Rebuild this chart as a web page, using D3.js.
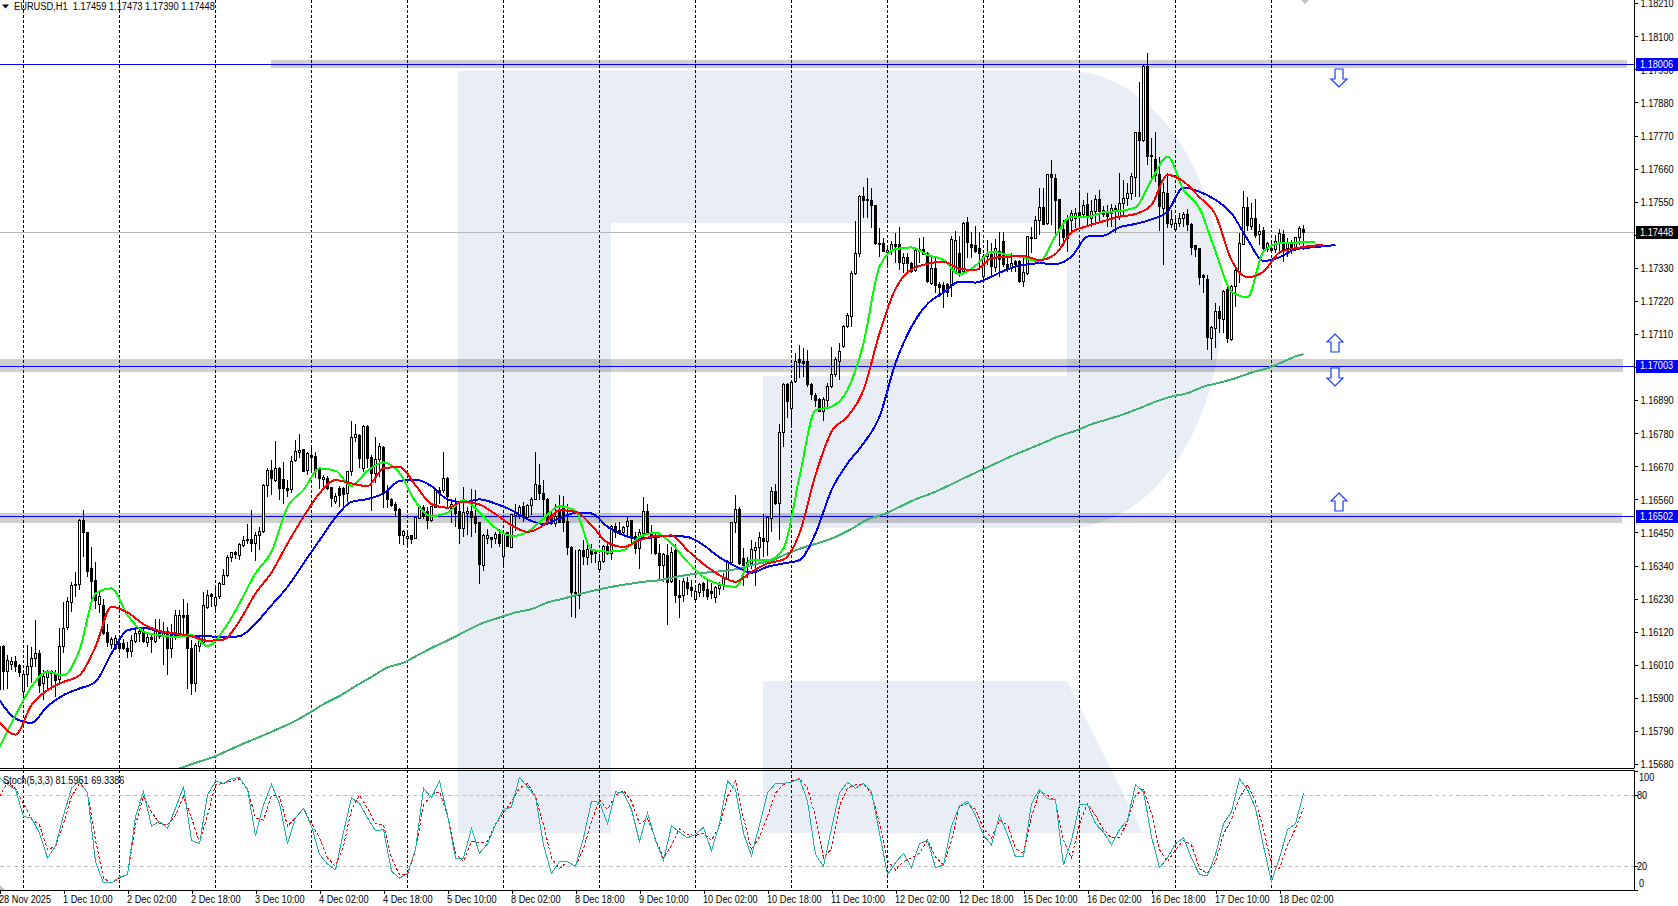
<!DOCTYPE html>
<html><head><meta charset="utf-8">
<script src="https://cdn.jsdelivr.net/npm/d3@7/dist/d3.min.js"></script>
<style>
html,body{margin:0;padding:0;background:#fff;overflow:hidden}
svg{display:block}
text{font-family:"Liberation Sans",Arial,sans-serif;font-size:11px;fill:#000}
</style></head><body>
<svg id="c" width="1678" height="906"></svg>
<script>
// Quotes: 16070 stands for 1.16070 (EURUSD points above 1.00000)
const opens=[16070,16070,15987,16009,16020,16007,15922,15979,16003,16031,
16048,15948,15968,15987,15981,15959,16070,16131,16219,16275,
16275,16489,16449,16330,16291,16208,16208,16117,16079,16064,
16081,16081,16064,16053,16086,16114,16120,16086,16101,16086,
16120,16103,16120,16064,16108,16114,16175,16175,16064,15948,
16070,16086,16203,16244,16208,16236,16278,16306,16367,16382,
16375,16408,16424,16427,16413,16441,16454,16607,16657,16624,
16663,16626,16596,16593,16687,16716,16727,16657,16707,16702,
16663,16626,16630,16600,16555,16596,16596,16580,16652,16766,
16774,16663,16804,16699,16648,16693,16733,16585,16560,16544,
16526,16438,16430,16441,16430,16496,16533,16519,16489,16533,
16591,16589,16630,16530,16544,16519,16463,16513,16519,16502,
16482,16341,16430,16433,16430,16444,16369,16449,16402,16508,
16508,16537,16502,16541,16560,16607,16580,16560,16508,16480,
16524,16530,16485,16400,16249,16241,16391,16369,16394,16382,
16330,16352,16404,16382,16471,16455,16452,16467,16489,16438,
16397,16447,16519,16447,16433,16380,16341,16375,16286,16391,
16241,16241,16284,16267,16228,16253,16280,16260,16253,16234,
16264,16273,16297,16350,16482,16526,16363,16341,16347,16391,
16400,16430,16419,16496,16587,16546,16782,16941,16863,16952,
17024,17020,17018,16941,16907,16891,16852,16891,16935,16974,
17018,17068,17132,17168,17310,17378,17567,17556,17553,17536,
17412,17412,17384,17389,17409,17406,17345,17365,17345,17321,
17392,17392,17376,17279,17328,17276,17270,17273,17273,17312,
17378,17317,17480,17409,17403,17395,17301,17367,17373,17332,
17384,17417,17340,17325,17351,17351,17284,17310,17432,17428,
17487,17531,17476,17639,17628,17556,17458,17495,17487,17495,
17514,17506,17539,17495,17517,17558,17520,17512,17512,17528,
17500,17543,17559,17576,17633,17781,17755,18000,17702,17691,
17641,17528,17578,17476,17459,17478,17492,17506,17473,17403,
17393,17306,17292,17096,17129,17185,17159,17257,17093,17268,
17318,17410,17532,17469,17495,17440,17453,17392,17395,17392,
17412,17442,17395,17412,17392,17432,17459];
const highs=[16070,16075,16042,16036,16039,16014,15987,16075,16070,16158,
16059,15992,15992,15992,15992,16131,16219,16236,16286,16319,
16495,16524,16452,16402,16352,16253,16230,16147,16101,16108,
16103,16097,16086,16108,16136,16136,16136,16114,16114,16161,
16161,16153,16136,16147,16192,16192,16230,16214,16092,16081,
16103,16253,16258,16247,16269,16286,16330,16375,16386,16389,
16416,16438,16477,16526,16452,16469,16612,16663,16690,16753,
16668,16685,16624,16704,16757,16776,16729,16718,16735,16718,
16668,16641,16637,16602,16580,16604,16600,16655,16821,16812,
16777,16807,16807,16707,16768,16746,16737,16607,16563,16552,
16530,16458,16452,16443,16502,16537,16541,16535,16537,16596,
16600,16718,16635,16552,16563,16546,16600,16533,16596,16591,
16485,16445,16463,16435,16452,16463,16452,16452,16513,16544,
16541,16552,16546,16569,16718,16679,16624,16565,16524,16546,
16574,16572,16546,16405,16391,16395,16424,16413,16413,16391,
16380,16408,16419,16474,16480,16485,16471,16500,16491,16452,
16463,16569,16546,16474,16447,16413,16382,16413,16402,16413,
16291,16297,16302,16291,16269,16283,16286,16291,16283,16271,
16286,16314,16358,16485,16576,16533,16397,16369,16424,16419,
16452,16511,16502,16600,16610,16810,16946,16946,16955,17046,
17073,17062,17057,16946,16913,16896,16900,16946,17068,17035,
17079,17140,17179,17318,17486,17572,17600,17628,17595,17539,
17462,17428,17395,17420,17445,17465,17378,17378,17351,17395,
17428,17434,17381,17373,17367,17284,17284,17279,17436,17453,
17436,17484,17500,17450,17469,17450,17376,17423,17412,17425,
17450,17450,17362,17378,17356,17356,17367,17436,17467,17503,
17595,17595,17642,17689,17642,17558,17489,17506,17522,17528,
17578,17556,17580,17556,17572,17589,17536,17539,17543,17539,
17645,17622,17611,17645,17783,17949,18005,18044,17761,17781,
17700,17611,17645,17523,17500,17512,17517,17525,17478,17406,
17395,17310,17306,17135,17212,17203,17257,17273,17273,17334,
17445,17585,17567,17545,17559,17476,17467,17417,17423,17440,
17458,17456,17428,17423,17434,17470,17473];
const lows=[15842,15926,15931,15992,15987,15970,15903,15937,15948,16003,
15915,15892,15926,15926,15903,15948,16048,16125,16186,16236,
16258,16369,16302,16225,16197,16181,16110,16070,16064,16059,
16060,16059,16034,16036,16083,16086,16083,16070,16048,16083,
16097,16009,15975,16031,16092,16108,16103,15931,15909,15920,
16053,16081,16197,16203,16186,16230,16275,16302,16352,16363,
16360,16402,16411,16386,16356,16391,16449,16569,16574,16618,
16557,16544,16569,16580,16685,16696,16652,16641,16652,16630,
16596,16591,16591,16533,16546,16535,16535,16552,16637,16751,
16663,16652,16663,16522,16613,16635,16530,16530,16535,16502,
16411,16408,16402,16410,16427,16494,16496,16460,16485,16530,
16546,16580,16530,16480,16469,16413,16435,16441,16435,16447,
16280,16322,16411,16397,16413,16402,16341,16400,16397,16455,
16496,16485,16491,16508,16557,16557,16491,16474,16474,16469,
16480,16452,16375,16169,16164,16197,16341,16341,16347,16347,
16322,16349,16375,16360,16430,16441,16441,16435,16413,16380,
16330,16435,16441,16380,16375,16291,16286,16142,16282,16214,
16164,16219,16241,16236,16219,16236,16236,16225,16230,16214,
16242,16260,16291,16341,16447,16341,16273,16297,16330,16273,
16358,16369,16371,16452,16541,16424,16735,16830,16796,16946,
16963,16968,16935,16891,16868,16850,16822,16868,16929,16968,
16957,17062,17129,17134,17306,17367,17495,17495,17462,17406,
17365,17381,17340,17373,17345,17323,17312,17312,17312,17317,
17347,17373,17281,17273,17245,17234,17195,17234,17234,17310,
17301,17312,17362,17362,17378,17323,17284,17340,17295,17317,
17301,17334,17317,17317,17317,17279,17265,17306,17378,17425,
17439,17473,17473,17473,17443,17401,17401,17384,17445,17462,
17462,17495,17465,17467,17484,17484,17500,17467,17467,17445,
17489,17500,17534,17556,17567,17567,17750,17672,17617,17617,
17451,17338,17462,17462,17456,17467,17467,17451,17373,17367,
17273,17246,17057,17022,17063,17113,17113,17079,17088,17201,
17279,17406,17451,17456,17428,17406,17384,17384,17379,17379,
17384,17351,17367,17376,17387,17406,17390];
const closes=[15926,15987,16025,16020,16003,15983,15978,16005,16031,16048,
15942,15970,15987,15979,15959,16070,16131,16219,16275,16278,
16489,16449,16319,16286,16225,16236,16114,16083,16095,16097,
16064,16064,16053,16090,16114,16120,16086,16101,16094,16120,
16103,16114,16064,16108,16175,16175,16170,16064,15948,16075,
16086,16208,16242,16236,16234,16280,16308,16367,16382,16375,
16411,16424,16428,16413,16441,16454,16607,16657,16630,16663,
16596,16596,16591,16687,16718,16724,16655,16713,16702,16652,
16630,16633,16596,16563,16571,16574,16576,16652,16766,16776,
16699,16804,16696,16646,16693,16735,16585,16557,16541,16524,
16441,16452,16438,16427,16500,16535,16502,16489,16535,16591,
16585,16630,16569,16544,16513,16463,16515,16519,16500,16480,
16341,16441,16441,16427,16444,16413,16447,16402,16511,16513,
16533,16502,16541,16560,16611,16580,16560,16480,16480,16502,
16485,16482,16400,16249,16241,16391,16371,16394,16378,16380,
16355,16402,16382,16471,16452,16447,16467,16485,16430,16397,
16449,16519,16447,16435,16380,16341,16378,16286,16382,16241,
16236,16286,16264,16258,16255,16278,16258,16236,16247,16266,
16273,16297,16352,16483,16526,16347,16341,16349,16393,16400,
16433,16419,16500,16585,16546,16782,16941,16885,16948,17018,
17013,17013,16941,16907,16891,16852,16891,16937,16974,17024,
17051,17134,17170,17312,17378,17567,17553,17553,17536,17409,
17409,17387,17389,17408,17403,17345,17365,17345,17317,17389,
17384,17376,17284,17328,17273,17265,17251,17248,17423,17420,
17314,17478,17414,17400,17384,17378,17369,17373,17334,17395,
17356,17340,17323,17343,17340,17284,17314,17434,17428,17489,
17531,17476,17639,17628,17556,17456,17432,17428,17511,17511,
17500,17536,17500,17517,17558,17517,17506,17503,17528,17520,
17545,17561,17576,17633,17781,17755,18000,17702,17700,17639,
17534,17580,17478,17492,17478,17495,17506,17473,17398,17390,
17298,17299,17099,17132,17185,17162,17251,17093,17268,17320,
17412,17532,17473,17495,17440,17451,17392,17412,17390,17417,
17443,17384,17412,17392,17432,17462,17448];
// Moving averages read every 4th bar
const maFast=[15737,15842,15937,15987,15975,16059,16247,16264,16175,16120,16108,16103,16108,16072,16125,16214,16314,16386,16535,16591,16663,16655,16605,16655,16683,16648,16552,16504,16515,16557,16516,16465,16438,16452,16496,16537,16521,16393,16386,16391,16435,16449,16413,16352,16302,16277,16269,16360,16358,16397,16635,16857,16868,16924,17079,17334,17392,17398,17373,17356,17309,17337,17384,17373,17365,17351,17436,17500,17500,17515,17519,17531,17622,17700,17589,17528,17384,17251,17232,17384,17412,17414,17415,17417];
const maMid=[15820,15778,15876,15926,15953,15975,16070,16203,16184,16145,16122,16114,16105,16090,16094,16156,16247,16317,16413,16502,16580,16624,16613,16604,16663,16668,16607,16544,16532,16552,16543,16511,16474,16452,16474,16524,16519,16474,16416,16402,16424,16438,16440,16391,16345,16308,16286,16319,16347,16360,16447,16641,16785,16835,16924,17112,17260,17325,17343,17351,17327,17323,17362,17367,17369,17356,17376,17448,17469,17485,17500,17509,17539,17639,17617,17565,17506,17356,17299,17317,17381,17395,17403,17406];
const maSlow=[15892,15831,15817,15872,15909,15931,15953,16048,16125,16133,16120,16111,16106,16105,16101,16105,16147,16208,16269,16347,16424,16500,16552,16561,16580,16621,16626,16604,16560,16550,16560,16546,16524,16494,16478,16496,16515,16513,16469,16441,16430,16435,16439,16435,16408,16367,16338,16316,16336,16347,16358,16447,16591,16679,16746,16835,17013,17134,17210,17248,17284,17281,17301,17325,17340,17345,17343,17367,17434,17437,17465,17476,17491,17517,17597,17583,17556,17511,17425,17353,17365,17392,17398,17403,17406];
const maLong=[15665,15684,15701,15724,15748,15770,15793,15817,15846,15879,15906,15939,15970,16001,16017,16045,16072,16097,16125,16150,16167,16184,16195,16217,16230,16245,16258,16269,16278,16286,16291,16302,16311,16317,16322,16330,16345,16356,16380,16400,16416,16435,16462,16493,16510,16535,16560,16580,16604,16630,16655,16679,16704,16726,16748,16771,16788,16810,16826,16843,16863,16885,16902,16913,16935,16948,16963,16982,16996,17018,17040,17043];
// Stochastic read every 2nd bar
const stochMain=[95,89,85,62,61,48,27,37,63,86,92,82,24,6,6,11,13,62,83,54,58,52,69,87,42,39,80,92,90,94,95,85,46,72,89,73,39,61,69,54,30,22,17,49,78,73,61,50,51,16,10,14,34,86,78,92,63,27,27,52,31,39,55,68,70,95,87,79,38,14,24,24,20,44,75,74,56,83,82,68,41,65,42,25,54,49,44,47,53,33,56,92,85,48,29,55,82,90,90,91,94,75,30,20,52,82,91,86,90,83,48,13,23,31,19,39,42,19,21,54,71,75,63,46,38,63,47,28,28,73,85,77,76,21,42,72,72,56,49,38,51,59,89,83,45,19,27,39,44,27,13,12,30,56,66,94,85,69,37,7,27,51,56,81.5951];
const stochSignal=[79,91,86,73,60,55,34,37,56,79,90,83,42,10,6,10,13,55,79,66,56,55,63,79,61,40,63,89,90,92,94,85,61,59,80,79,54,61,69,56,44,27,20,37,68,80,69,56,55,27,13,13,33,72,80,83,63,31,24,41,40,41,56,65,75,86,90,79,55,27,18,24,20,35,58,76,68,80,84,75,56,60,43,27,38,52,47,46,48,42,54,79,92,61,34,45,62,82,89,92,94,86,62,27,35,71,86,89,89,82,56,25,17,24,27,31,42,28,21,42,71,73,68,52,44,59,55,35,31,62,83,80,75,42,27,56,73,63,51,44,44,58,80,85,65,34,24,34,42,38,18,14,24,47,60,78,89,75,52,21,18,38,52,69.3386];
const priceTicks=[1.1821,1.181,1.1799,1.1788,1.1777,1.1766,1.1755,1.1744,1.1733,1.1722,1.1711,1.17,1.1689,1.1678,1.1667,1.1656,1.1645,1.1634,1.1623,1.1612,1.1601,1.159,1.1579,1.1568];
const timeLabels=["28 Nov 2025","1 Dec 10:00","2 Dec 02:00","2 Dec 18:00","3 Dec 10:00","4 Dec 02:00","4 Dec 18:00","5 Dec 10:00","8 Dec 02:00","8 Dec 18:00","9 Dec 10:00","10 Dec 02:00","10 Dec 18:00","11 Dec 10:00","12 Dec 02:00","12 Dec 18:00","15 Dec 10:00","16 Dec 02:00","16 Dec 18:00","17 Dec 10:00","18 Dec 02:00"];
const levels=[1.18006,1.17003,1.16502];
const lastPrice=1.17448;
const stochLevels=[80,20];
const stochLabels=[100,80,20,0];
const header="EURUSD,H1  1.17459 1.17473 1.17390 1.17448";
const stochTitle="Stoch(5,3,3) 81.5951 69.3386";

const TX=0.835; // condensed horizontal text metric of the terminal font
const svg=d3.select("#c");
const q=v=>1+v/1e5;
const x=d3.scaleLinear().domain([0,1]).range([-0.5,3.5]);
const y=d3.scaleLinear().domain([1.1821,1.1568]).range([3.2,764]);
const ys=d3.scaleLinear().domain([0,100]).range([890,771.6]);
const axisX=1634, mainBottom=768.5, subTop=771, subBottom=890;
const crisp=v=>Math.floor(v)+0.5;
const defs=svg.append("defs");
defs.append("clipPath").attr("id","m").append("rect").attr("x",0).attr("y",0).attr("width",axisX).attr("height",mainBottom);
defs.append("clipPath").attr("id","s").append("rect").attr("x",0).attr("y",subTop).attr("width",axisX).attr("height",subBottom-subTop);
function label(g,s,px,py,opt={}){
  return g.append("text").attr("transform",`translate(${px},${py}) scale(${opt.tx||TX},1)`).attr("dominant-baseline","central")
    .style("fill",opt.fill||"#000").text(s);
}
// watermark
const logo=svg.append("g").attr("fill","#e9eef6");
logo.append("rect").attr("x",458).attr("y",71).attr("width",153).attr("height",762);
logo.append("path").attr("d","M458,71H1067A155,228 0 0 1 1067,528H763V376H1067V223H458Z");
logo.append("path").attr("d","M763,681H1067L1143,833H763Z");

// level bands
const bands=[[271,60,1627,68],[0,359,1623,372],[0,513,1622,523]];
svg.append("g").selectAll("rect").data(bands).join("rect")
  .attr("x",d=>d[0]).attr("y",d=>d[1]).attr("width",d=>d[2]-d[0]).attr("height",d=>d[3]-d[1])
  .attr("fill","#000").attr("fill-opacity",0.19);

// grid
const gridBars=d3.range(6,340,24);
svg.append("g").selectAll("line").data(gridBars).join("line")
  .attr("x1",d=>x(d)).attr("x2",d=>x(d)).attr("y1",0).attr("y2",subBottom)
  .attr("stroke","#000").attr("stroke-width",1).attr("stroke-dasharray","3,2").attr("shape-rendering","crispEdges");

// last price line
svg.append("line").attr("x1",0).attr("x2",axisX).attr("y1",crisp(y(lastPrice))).attr("y2",crisp(y(lastPrice)))
  .attr("stroke","#b8b8b8").attr("shape-rendering","crispEdges");

// levels
svg.append("g").selectAll("line").data(levels).join("line")
  .attr("x1",0).attr("x2",axisX).attr("y1",d=>crisp(y(d))).attr("y2",d=>crisp(y(d)))
  .attr("stroke","#0000ff").attr("shape-rendering","crispEdges");

// candles
const bars=opens.map((o,i)=>({i,o:q(o),h:q(highs[i]),l:q(lows[i]),c:q(closes[i])}));
const main=svg.append("g").attr("clip-path","url(#m)");
const cg=main.append("g").attr("shape-rendering","crispEdges");
cg.selectAll("line").data(bars).join("line")
  .attr("x1",d=>x(d.i)).attr("x2",d=>x(d.i)).attr("y1",d=>y(d.h)).attr("y2",d=>y(d.l)).attr("stroke","#000");
cg.selectAll("rect").data(bars).join("rect")
  .attr("x",d=>x(d.i)-1).attr("width",2)
  .attr("y",d=>crisp(y(Math.max(d.o,d.c))))
  .attr("height",d=>Math.max(1,Math.round(Math.abs(y(d.o)-y(d.c)))))
  .attr("fill",d=>d.c>=d.o?"#fff":"#000").attr("stroke","#000");

// moving averages
const seq=(start,stop,step,extra)=>d3.range(start,stop,step).concat(extra);
const mas=[
 {v:maLong,b:seq(45,326,4,326),c:"#3cb371"},
 {v:maSlow,b:seq(0,333,4,334),c:"#0000ff"},
 {v:maFast,b:seq(0,329,4,329),c:"#00ff00"},
 {v:maMid,b:seq(0,329,4,331),c:"#ff0000"}];
const ln=d3.line().curve(d3.curveMonotoneX);
mas.forEach(m=>{
  const pts=m.v.map((v,k)=>[x(m.b[k]),y(q(v))]);
  main.append("path").attr("d",ln(pts)).attr("fill","none").attr("stroke",m.c).attr("stroke-width",2).attr("shape-rendering","crispEdges");
});

// arrows
function arrow(cx,top,bot,dirDown){
  const h=dirDown?[[cx-4,top],[cx+4,top],[cx+4,bot-8],[cx+8,bot-8],[cx,bot],[cx-8,bot-8],[cx-4,bot-8]]
                 :[[cx-4,bot],[cx+4,bot],[cx+4,top+8],[cx+8,top+8],[cx,top],[cx-8,top+8],[cx-4,top+8]];
  svg.append("polygon").attr("points",h.join(" ")).attr("fill","#fff").attr("stroke","#1a3cff").attr("stroke-width",1.2);
}
arrow(1339,69,87,true);arrow(1335,334,352,false);arrow(1335,368,386,true);arrow(1339,493,511,false);
// top marker
svg.append("path").attr("d","M1301,0H1309L1305,4Z").attr("fill","#c4c4c4");
svg.append("path").attr("d","M0,885L5,890H0Z").attr("fill","#c4c4c4");

// stochastic
const sub=svg.append("g").attr("clip-path","url(#s)");
sub.selectAll("line").data(stochLevels).join("line")
  .attr("x1",0).attr("x2",axisX).attr("y1",d=>crisp(ys(d))).attr("y2",d=>crisp(ys(d)))
  .attr("stroke","#c0c0c0").attr("stroke-dasharray","4,3").attr("shape-rendering","crispEdges");
const sl=d3.line().x((d,k)=>x(k*2)).y(d=>ys(d));
sub.append("path").attr("d",sl(stochSignal)).attr("fill","none").attr("stroke","#ff0000").attr("stroke-dasharray","3,2").attr("shape-rendering","crispEdges");
sub.append("path").attr("d",sl(stochMain)).attr("fill","none").attr("stroke","#20b2aa").attr("stroke-width",1).attr("shape-rendering","crispEdges");

// frames
const frame=svg.append("g").attr("stroke","#000").attr("shape-rendering","crispEdges");
frame.append("line").attr("x1",0).attr("x2",axisX).attr("y1",768.5).attr("y2",768.5);
frame.append("line").attr("x1",0).attr("x2",axisX).attr("y1",770.5).attr("y2",770.5);
frame.append("line").attr("x1",0).attr("x2",axisX).attr("y1",890.5).attr("y2",890.5);

// price axis
const ax=svg.append("g").attr("transform",`translate(${axisX+0.5},0)`)
  .call(d3.axisRight(y).tickValues(priceTicks).tickFormat(d3.format(".5f")).tickSize(3));
ax.select(".domain").attr("d",`M0,0V${mainBottom}`).attr("stroke","#000");
ax.selectAll(".tick line").attr("stroke","#000").attr("shape-rendering","crispEdges");
ax.selectAll(".tick text").attr("x",0).attr("dy",null).attr("dominant-baseline","central")
  .attr("transform",`translate(6,0) scale(${TX},1)`).style("font-size","11px").style("font-family",'"Liberation Sans",Arial,sans-serif');
// stochastic axis
const sa=svg.append("g").attr("transform",`translate(${axisX+0.5},0)`);
sa.append("line").attr("x1",0).attr("x2",0).attr("y1",770).attr("y2",891).attr("stroke","#000");
sa.selectAll("line.t").data(stochLabels).join("line").attr("class","t")
  .attr("x1",0).attr("x2",3).attr("y1",d=>crisp(ys(d))).attr("y2",d=>crisp(ys(d))).attr("stroke","#000").attr("shape-rendering","crispEdges");
const stochLabelY=d=>d===100?777:d===0?883.7:ys(d);
stochLabels.forEach(d=>label(svg,String(d),d===80||d===20?axisX+3:axisX+5,stochLabelY(d)));

// axis labels with price boxes
levels.forEach(d=>{
  const yy=y(d);
  svg.append("rect").attr("x",axisX+2).attr("y",Math.floor(yy)-6).attr("width",1678-axisX-2).attr("height",13).attr("fill","#0000ff");
  label(svg,d.toFixed(5),axisX+6,yy-0.5,{fill:"#fff"});
});
svg.append("rect").attr("x",axisX+2).attr("y",Math.floor(y(lastPrice))-6).attr("width",1678-axisX-2).attr("height",13).attr("fill","#000");
label(svg,lastPrice.toFixed(5),axisX+6,y(lastPrice),{fill:"#fff"});

// time axis
const ta=svg.append("g").attr("transform",`translate(0,${subBottom+0.5})`)
  .call(d3.axisBottom(x).tickValues(timeLabels.map((_,k)=>k*16)).tickFormat((d)=>timeLabels[d/16]).tickSize(3));
ta.select(".domain").remove();
ta.selectAll(".tick line").attr("stroke","#000").attr("shape-rendering","crispEdges");
ta.selectAll(".tick text").attr("text-anchor","start").attr("y",0).attr("dy",null).attr("dominant-baseline","central")
  .attr("transform",`translate(-1,9) scale(${TX},1)`).style("font-size","11px").style("font-family",'"Liberation Sans",Arial,sans-serif');

// titles
svg.append("path").attr("d","M2,4.5H9L5.5,8.5Z").attr("fill","#000");
label(svg,header,14,6.5,{tx:0.845}).style("white-space","pre");
label(svg,stochTitle,3,780);
</script>
</body></html>
